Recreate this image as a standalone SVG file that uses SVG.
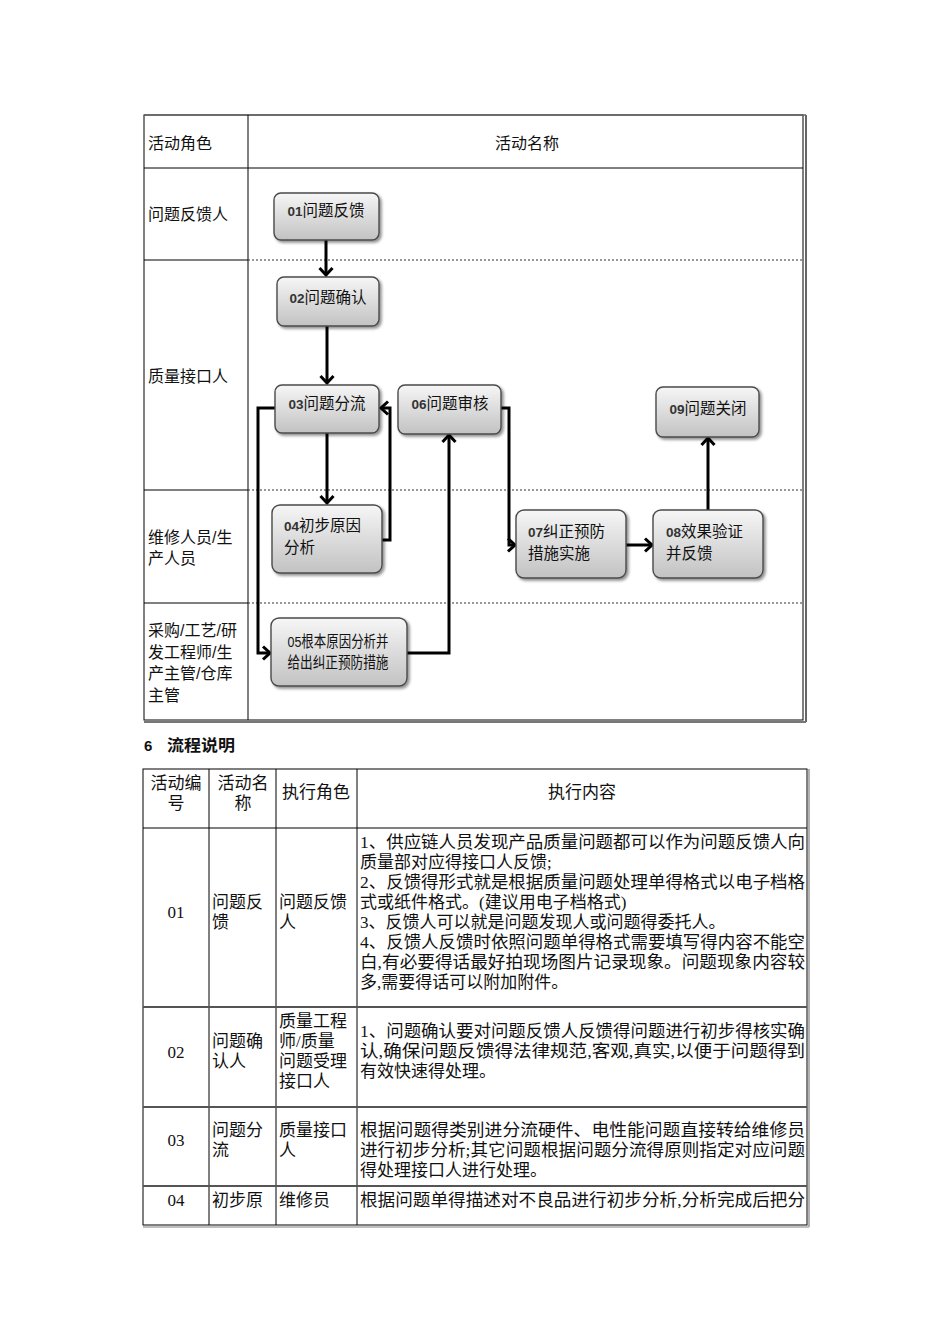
<svg xmlns="http://www.w3.org/2000/svg" width="950" height="1344" viewBox="0 0 950 1344">
<defs>
<linearGradient id="g" x1="0" y1="0" x2="0" y2="1">
<stop offset="0" stop-color="#f6f6f6"/>
<stop offset="1" stop-color="#c2c2c2"/>
</linearGradient>
<filter id="sh" x="-10%" y="-10%" width="130%" height="140%">
<feGaussianBlur in="SourceAlpha" stdDeviation="1.5"/>
<feOffset dx="1.5" dy="2" result="o"/>
<feComponentTransfer><feFuncA type="linear" slope="0.45"/></feComponentTransfer>
<feMerge><feMergeNode/><feMergeNode in="SourceGraphic"/></feMerge>
</filter>
<marker id="ah" viewBox="-10 -9 12 18" refX="0" refY="0" markerWidth="12" markerHeight="18" markerUnits="userSpaceOnUse" orient="auto">
<path d="M-7,-6.5 L0,0 L-7,6.5" fill="none" stroke="#000" stroke-width="3"/>
</marker>
</defs>
<style>
.box{fill:url(#g);stroke:#4a4a4a;stroke-width:1.4;filter:url(#sh)}
.nt{font-family:"Liberation Sans","Noto Sans CJK SC",sans-serif;font-size:15.5px;fill:#111}
.nd{font-size:13.5px;font-weight:bold;fill:#333}
.lt{font-family:"Liberation Sans","Noto Sans CJK SC",sans-serif;font-size:16px;fill:#111}
.tt{font-family:"Liberation Serif","Noto Sans CJK SC",serif;font-size:17px;fill:#111}
.grid{stroke:#000;stroke-width:1;fill:none}
.dot{stroke:#333;stroke-width:1;stroke-dasharray:2,2}
.cn{fill:none;stroke:#000;stroke-width:3;marker-end:url(#ah)}
</style>
<rect width="950" height="1344" fill="#fff"/>

<!-- Top swimlane table -->
<g id="swimlane">
<rect class="grid" x="144" y="115" width="659" height="605"/>
<line x1="806" y1="115" x2="806" y2="722" stroke="#000" stroke-width="1.2"/>
<line x1="144" y1="722" x2="806" y2="722" stroke="#777" stroke-width="2"/>
<line x1="144" y1="115" x2="806" y2="115" stroke="#666" stroke-width="1.5"/>
<line class="grid" x1="248" y1="115" x2="248" y2="720"/>
<line class="grid" x1="144" y1="168" x2="803" y2="168"/>
<line class="grid" x1="144" y1="260" x2="248" y2="260"/>
<line class="grid" x1="144" y1="490" x2="248" y2="490"/>
<line class="grid" x1="144" y1="603" x2="248" y2="603"/>
<line class="dot" x1="248" y1="260" x2="803" y2="260"/>
<line class="dot" x1="248" y1="490" x2="803" y2="490"/>
<line class="dot" x1="248" y1="603" x2="803" y2="603"/>
<text class="lt" x="148" y="149">活动角色</text>
<text class="lt" x="527" y="149" text-anchor="middle">活动名称</text>
<text class="lt" x="148" y="220">问题反馈人</text>
<text class="lt" x="148" y="382">质量接口人</text>
<text class="lt" x="148" y="543">维修人员/生</text>
<text class="lt" x="148" y="564">产人员</text>
<text class="lt" x="148" y="636">采购/工艺/研</text>
<text class="lt" x="148" y="658">发工程师/生</text>
<text class="lt" x="148" y="679">产主管/仓库</text>
<text class="lt" x="148" y="701">主管</text>
</g>

<g id="connectors">
<path class="cn" d="M326,240 L326,275"/>
<path class="cn" d="M327,326 L327,383"/>
<path class="cn" d="M327,433 L327,503"/>
<path class="cn" d="M382,540 L390,540 L390,408 L381,408"/>
<path class="cn" d="M276,408 L258,408 L258,653 L270,653"/>
<path class="cn" d="M407,653 L449,653 L449,435"/>
<path class="cn" d="M501,408 L509,408 L509,545 L515,545"/>
<path class="cn" d="M626,545 L652,545"/>
<path class="cn" d="M708,510 L708,438"/>
</g>

<g id="n01"><rect class="box" x="274" y="193" width="105" height="47" rx="7"/>
<text class="nt" x="326" y="216" text-anchor="middle"><tspan class="nd">01</tspan>问题反馈</text></g>
<g id="n02"><rect class="box" x="277" y="277" width="102" height="49" rx="7"/>
<text class="nt" x="328" y="303" text-anchor="middle"><tspan class="nd">02</tspan>问题确认</text></g>
<g id="n03"><rect class="box" x="275" y="385" width="104" height="48" rx="7"/>
<text class="nt" x="327" y="409" text-anchor="middle"><tspan class="nd">03</tspan>问题分流</text></g>
<g id="n06"><rect class="box" x="398" y="385" width="103" height="49" rx="7"/>
<text class="nt" x="450" y="409" text-anchor="middle"><tspan class="nd">06</tspan>问题审核</text></g>
<g id="n09"><rect class="box" x="656" y="387" width="103" height="50" rx="7"/>
<text class="nt" x="708" y="414" text-anchor="middle"><tspan class="nd">09</tspan>问题关闭</text></g>
<g id="n04"><rect class="box" x="272" y="505" width="110" height="68" rx="8"/>
<text class="nt" x="284" y="531"><tspan class="nd">04</tspan>初步原因</text>
<text class="nt" x="284" y="553">分析</text></g>
<g id="n07"><rect class="box" x="516" y="510" width="110" height="68" rx="8"/>
<text class="nt" x="528" y="537"><tspan class="nd">07</tspan>纠正预防</text>
<text class="nt" x="528" y="559">措施实施</text></g>
<g id="n08"><rect class="box" x="653" y="510" width="110" height="68" rx="8"/>
<text class="nt" x="666" y="537"><tspan class="nd">08</tspan>效果验证</text>
<text class="nt" x="666" y="559">并反馈</text></g>
<g id="n05"><rect class="box" x="271" y="618" width="136" height="68" rx="8"/>
<text class="nt" x="338" y="647" text-anchor="middle" font-size="13.5" textLength="101" lengthAdjust="spacingAndGlyphs">05根本原因分析并</text>
<text class="nt" x="338" y="668" text-anchor="middle" font-size="13.5" textLength="101" lengthAdjust="spacingAndGlyphs">给出纠正预防措施</text></g>

<!-- Heading -->
<g id="heading">
<text x="144" y="751" font-family="'Liberation Sans',sans-serif" font-size="15" font-weight="bold" fill="#111">6</text>
<text x="167" y="751" font-family="'Liberation Sans','Noto Sans CJK SC',sans-serif" font-size="16" font-weight="bold" fill="#111" textLength="68" lengthAdjust="spacingAndGlyphs">流程说明</text>
</g>

<!-- Lower table -->
<g id="table">
<rect class="grid" x="143" y="769" width="664" height="456"/>
<line x1="809" y1="769" x2="809" y2="1227" stroke="#999" stroke-width="1.5"/>
<line x1="143" y1="1227" x2="809" y2="1227" stroke="#aaa" stroke-width="1.5"/>
<line class="grid" x1="209" y1="769" x2="209" y2="1225"/>
<line class="grid" x1="276" y1="769" x2="276" y2="1225"/>
<line class="grid" x1="357" y1="769" x2="357" y2="1225"/>
<line class="grid" x1="143" y1="828" x2="807" y2="828"/>
<line x1="143" y1="1007" x2="807" y2="1007" stroke="#555" stroke-width="1.8"/>
<line x1="143" y1="1107" x2="807" y2="1107" stroke="#555" stroke-width="1.8"/>
<line x1="143" y1="1186" x2="807" y2="1186" stroke="#555" stroke-width="1.8"/>

<text class="tt" x="176" y="789" text-anchor="middle">活动编</text>
<text class="tt" x="176" y="809" text-anchor="middle">号</text>
<text class="tt" x="243" y="789" text-anchor="middle">活动名</text>
<text class="tt" x="243" y="809" text-anchor="middle">称</text>
<text class="tt" x="316" y="798" text-anchor="middle">执行角色</text>
<text class="tt" x="582" y="798" text-anchor="middle">执行内容</text>

<text class="tt" x="176" y="918" text-anchor="middle">01</text>
<text class="tt" x="212" y="908">问题反</text>
<text class="tt" x="212" y="928">馈</text>
<text class="tt" x="279" y="908">问题反馈</text>
<text class="tt" x="279" y="928">人</text>
<text class="tt" x="360" y="848" textLength="445" lengthAdjust="spacingAndGlyphs">1、供应链人员发现产品质量问题都可以作为问题反馈人向</text>
<text class="tt" x="360" y="868">质量部对应得接口人反馈;</text>
<text class="tt" x="360" y="888" textLength="445" lengthAdjust="spacingAndGlyphs">2、反馈得形式就是根据质量问题处理单得格式以电子档格</text>
<text class="tt" x="360" y="908">式或纸件格式。(建议用电子档格式)</text>
<text class="tt" x="360" y="928">3、反馈人可以就是问题发现人或问题得委托人。</text>
<text class="tt" x="360" y="948" textLength="445" lengthAdjust="spacingAndGlyphs">4、反馈人反馈时依照问题单得格式需要填写得内容不能空</text>
<text class="tt" x="360" y="968" textLength="445" lengthAdjust="spacingAndGlyphs">白,有必要得话最好拍现场图片记录现象。问题现象内容较</text>
<text class="tt" x="360" y="988">多,需要得话可以附加附件。</text>

<text class="tt" x="176" y="1058" text-anchor="middle">02</text>
<text class="tt" x="212" y="1047">问题确</text>
<text class="tt" x="212" y="1067">认人</text>
<text class="tt" x="279" y="1027">质量工程</text>
<text class="tt" x="279" y="1047">师/质量</text>
<text class="tt" x="279" y="1067">问题受理</text>
<text class="tt" x="279" y="1087">接口人</text>
<text class="tt" x="360" y="1037" textLength="445" lengthAdjust="spacingAndGlyphs">1、问题确认要对问题反馈人反馈得问题进行初步得核实确</text>
<text class="tt" x="360" y="1057" textLength="445" lengthAdjust="spacingAndGlyphs">认,确保问题反馈得法律规范,客观,真实,以便于问题得到</text>
<text class="tt" x="360" y="1077">有效快速得处理。</text>

<text class="tt" x="176" y="1146" text-anchor="middle">03</text>
<text class="tt" x="212" y="1136">问题分</text>
<text class="tt" x="212" y="1156">流</text>
<text class="tt" x="279" y="1136">质量接口</text>
<text class="tt" x="279" y="1156">人</text>
<text class="tt" x="360" y="1136" textLength="445" lengthAdjust="spacingAndGlyphs">根据问题得类别进分流硬件、电性能问题直接转给维修员</text>
<text class="tt" x="360" y="1156" textLength="445" lengthAdjust="spacingAndGlyphs">进行初步分析;其它问题根据问题分流得原则指定对应问题</text>
<text class="tt" x="360" y="1176">得处理接口人进行处理。</text>

<text class="tt" x="176" y="1206" text-anchor="middle">04</text>
<text class="tt" x="212" y="1206">初步原</text>
<text class="tt" x="279" y="1206">维修员</text>
<text class="tt" x="360" y="1206" textLength="445" lengthAdjust="spacingAndGlyphs">根据问题单得描述对不良品进行初步分析,分析完成后把分</text>
</g>
</svg>
